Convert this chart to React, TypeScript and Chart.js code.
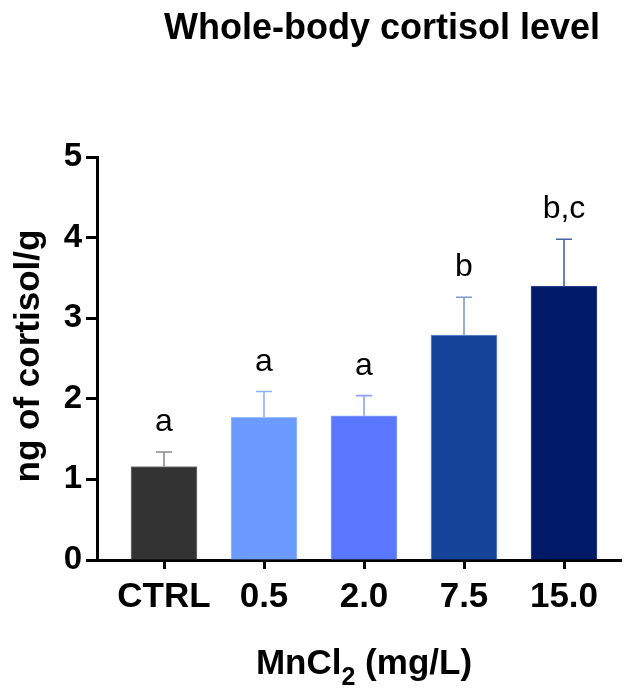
import React, { useEffect, useRef } from "react";
import { Chart, registerables } from "chart.js";

Chart.register(...registerables);

const categories = ["CTRL", "0.5", "2.0", "7.5", "15.0"];
const means = [1.16, 1.77, 1.79, 2.79, 3.4];
const sems = [0.18, 0.32, 0.25, 0.47, 0.58];
const letters = ["a", "a", "a", "b", "b,c"];
const yTicks = [0, 1, 2, 3, 4, 5];

const fillColors = ["#333333", "#6b9bff", "#5a78ff", "#16449a", "#001a68"];
const edgeColors = ["#7a7a7a", "#9dbdff", "#8ea2ff", "#6f8fd0", "#3a4f95"];
const errColors = ["#8a8a8a", "#8fb0ff", "#8aa0ff", "#8098d0", "#4d5e9e"];

const FONT = "'Liberation Sans', Arial, Helvetica, sans-serif";

const annotPlugin = {
  id: "annot",
  afterDatasetsDraw(chart: any) {
    const ctx = chart.ctx;
    const xs = chart.scales.x;
    const ys = chart.scales.y;
    ctx.save();
    means.forEach((m, i) => {
      const cx = xs.getPixelForValue(i);
      const yTop = ys.getPixelForValue(m);
      const yErr = ys.getPixelForValue(m + sems[i]);
      ctx.strokeStyle = errColors[i];
      ctx.lineWidth = 1.6;
      ctx.beginPath();
      ctx.moveTo(cx, yTop);
      ctx.lineTo(cx, yErr);
      ctx.moveTo(cx - 8, yErr);
      ctx.lineTo(cx + 8, yErr);
      ctx.stroke();
      ctx.fillStyle = "#000";
      ctx.font = `32px ${FONT}`;
      ctx.textAlign = "center";
      ctx.textBaseline = "alphabetic";
      ctx.fillText(letters[i], cx, yErr - 21);
    });
    ctx.restore();
  },
  afterDraw(chart: any) {
    const ctx = chart.ctx;
    ctx.save();
    ctx.fillStyle = "#000";
    // Title
    ctx.font = `bold 36px ${FONT}`;
    ctx.textAlign = "center";
    ctx.textBaseline = "alphabetic";
    ctx.fillText("Whole-body cortisol level", 382, 39);
    // Y title
    ctx.save();
    ctx.translate(39, 356);
    ctx.rotate(-Math.PI / 2);
    ctx.font = `bold 35px ${FONT}`;
    ctx.textAlign = "center";
    ctx.fillText("ng of cortisol/g", 0, 0);
    ctx.restore();
    // X title with subscript
    const p1 = "MnCl";
    const sub = "2";
    const p2 = " (mg/L)";
    ctx.font = `bold 35px ${FONT}`;
    const w1 = ctx.measureText(p1).width;
    const w3 = ctx.measureText(p2).width;
    ctx.font = `bold 25px ${FONT}`;
    const w2 = ctx.measureText(sub).width;
    const total = w1 + w2 + w3;
    const cx = (chart.scales.x.getPixelForValue(0) + chart.scales.x.getPixelForValue(4)) / 2;
    let x = cx - total / 2;
    const base = 674;
    ctx.textAlign = "left";
    ctx.font = `bold 35px ${FONT}`;
    ctx.fillText(p1, x, base);
    x += w1;
    ctx.font = `bold 25px ${FONT}`;
    ctx.fillText(sub, x, base + 11);
    x += w2;
    ctx.font = `bold 35px ${FONT}`;
    ctx.fillText(p2, x, base);
    ctx.restore();
  },
};

export default function App() {
  const ref = useRef<HTMLCanvasElement>(null);
  useEffect(() => {
    document.body.style.margin = "0";
    const chart = new Chart(ref.current as HTMLCanvasElement, {
      type: "bar",
      data: {
        datasets: [
          {
            data: means.map((v, i) => ({ x: i, y: v })),
            backgroundColor: fillColors,
            borderColor: edgeColors,
            borderWidth: 1,
            barThickness: 66,
          },
        ],
      },
      options: {
        animation: false,
        responsive: false,
        layout: { padding: { top: 157, right: 11, left: 0, bottom: 0 } },
        plugins: { legend: { display: false }, tooltip: { enabled: false }, title: { display: false } },
        scales: {
          x: {
            type: "linear",
            offset: false,
            min: -0.67,
            max: 4.57,
            afterBuildTicks: (s: any) => {
              s.ticks = categories.map((_, i) => ({ value: i }));
            },
            afterFit: (s: any) => {
              s.height = 131;
            },
            grid: { display: true, offset: false, drawOnChartArea: false, drawTicks: true, tickLength: 9, tickWidth: 3, tickColor: "#000" },
            border: { display: true, width: 3, color: "#000" },
            ticks: {
              autoSkip: false,
              maxRotation: 0,
              padding: 7,
              color: "#000",
              font: { family: FONT, size: 35, weight: "bold" },
              callback: (v: any) => categories[v] ?? "",
            },
          },
          y: {
            min: 0,
            max: 5,
            afterBuildTicks: (s: any) => {
              s.ticks = yTicks.map((v) => ({ value: v }));
            },
            afterFit: (s: any) => {
              s.width = 97;
            },
            grid: { display: true, drawOnChartArea: false, drawTicks: true, tickLength: 11, tickWidth: 3, tickColor: "#000" },
            border: { display: true, width: 3, color: "#000" },
            ticks: {
              padding: 4,
              color: "#000",
              font: { family: FONT, size: 33, weight: "bold" },
            },
          },
        },
      },
      plugins: [annotPlugin],
    } as any);
    return () => chart.destroy();
  }, []);
  return <canvas ref={ref} width={632} height={691} style={{ display: "block" }} />;
}
